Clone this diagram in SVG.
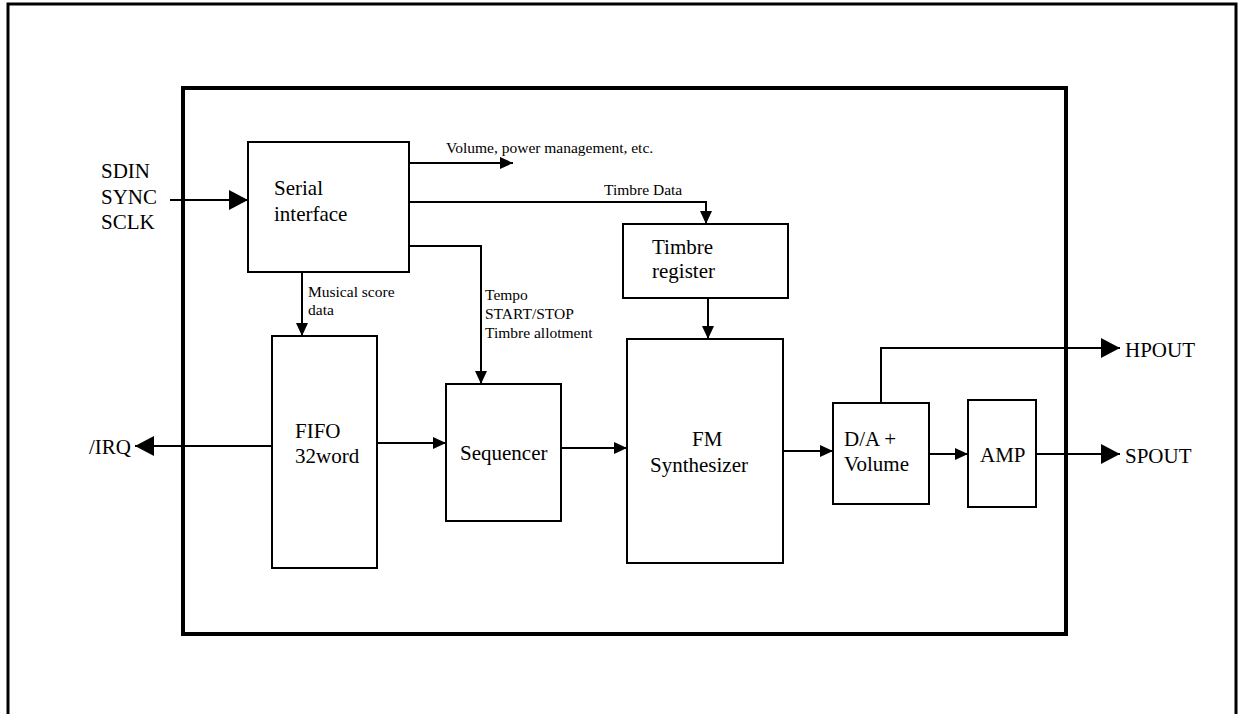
<svg xmlns="http://www.w3.org/2000/svg" width="1238" height="714" viewBox="0 0 1238 714">
<style>
.box{fill:#fff;stroke:#000;stroke-width:2}
.wire{fill:none;stroke:#000;stroke-width:2}
.big{font-family:"Liberation Serif","Times New Roman",serif;font-size:21px;fill:#000}
.sm{font-family:"Liberation Serif","Times New Roman",serif;font-size:15.5px;fill:#000}
</style>
<defs>
<marker id="ab" markerUnits="userSpaceOnUse" markerWidth="19" markerHeight="20" refX="19" refY="10" orient="auto"><path d="M0,0 L19,10 L0,20 z" fill="#000"/></marker>
<marker id="as" markerUnits="userSpaceOnUse" markerWidth="13" markerHeight="12" refX="13" refY="6" orient="auto"><path d="M0,0 L13,6 L0,12 z" fill="#000"/></marker>
</defs>
<rect width="1238" height="714" fill="#fff"/>
<g id="frame">
<path d="M8,714 V4 H1236 V714" fill="none" stroke="#000" stroke-width="3"/>
<rect x="183" y="88" width="883" height="546" fill="none" stroke="#000" stroke-width="4"/>
</g>
<g id="connectors">
<path class="wire" d="M170,200 H248" marker-end="url(#ab)"/>
<path class="wire" d="M409,163 H513" marker-end="url(#as)"/>
<path class="wire" d="M409,202 H706 V224" marker-end="url(#as)"/>
<path class="wire" d="M409,246 H481 V384" marker-end="url(#as)"/>
<path class="wire" d="M302,272 V336" marker-end="url(#as)"/>
<path class="wire" d="M708,298 V339" marker-end="url(#as)"/>
<path class="wire" d="M272,446 H135" marker-end="url(#ab)"/>
<path class="wire" d="M377,443 H446" marker-end="url(#as)"/>
<path class="wire" d="M561,448 H627" marker-end="url(#as)"/>
<path class="wire" d="M783,451 H833" marker-end="url(#as)"/>
<path class="wire" d="M881,403 V348 H1120" marker-end="url(#ab)"/>
<path class="wire" d="M929,454 H968" marker-end="url(#as)"/>
<path class="wire" d="M1036,454 H1120" marker-end="url(#ab)"/>
<text class="sm" x="446" y="153">Volume, power management, etc.</text>
<text class="sm" x="604" y="195">Timbre Data</text>
<text class="sm" x="308" y="297">Musical score</text>
<text class="sm" x="308" y="315">data</text>
<text class="sm" x="485" y="300">Tempo</text>
<text class="sm" x="485" y="319">START/STOP</text>
<text class="sm" x="485" y="338">Timbre allotment</text>
</g>
<g id="inputs">
<text class="big" x="101" y="178">SDIN</text>
<text class="big" x="101" y="204">SYNC</text>
<text class="big" x="101" y="229">SCLK</text>
</g>
<g id="serial">
<rect class="box" x="248" y="142" width="161" height="130"/>
<text class="big" x="274" y="195">Serial</text>
<text class="big" x="274" y="221">interface</text>
</g>
<g id="timbre">
<rect class="box" x="623" y="224" width="165" height="74"/>
<text class="big" x="652" y="254">Timbre</text>
<text class="big" x="652" y="278">register</text>
</g>
<g id="fifo">
<rect class="box" x="272" y="336" width="105" height="232"/>
<text class="big" x="295" y="438">FIFO</text>
<text class="big" x="295" y="463">32word</text>
</g>
<g id="sequencer">
<rect class="box" x="446" y="384" width="115" height="137"/>
<text class="big" x="460" y="460">Sequencer</text>
</g>
<g id="fm">
<rect class="box" x="627" y="339" width="156" height="224"/>
<text class="big" x="692" y="446">FM</text>
<text class="big" x="650" y="472">Synthesizer</text>
</g>
<g id="da">
<rect class="box" x="833" y="403" width="96" height="101"/>
<text class="big" x="844" y="446">D/A +</text>
<text class="big" x="844" y="471">Volume</text>
</g>
<g id="amp">
<rect class="box" x="968" y="400" width="68" height="107"/>
<text class="big" x="980" y="462">AMP</text>
</g>
<g id="outputs">
<text class="big" x="131" y="454" text-anchor="end">/IRQ</text>
<text class="big" x="1125" y="357">HPOUT</text>
<text class="big" x="1125" y="463">SPOUT</text>
</g>
</svg>
